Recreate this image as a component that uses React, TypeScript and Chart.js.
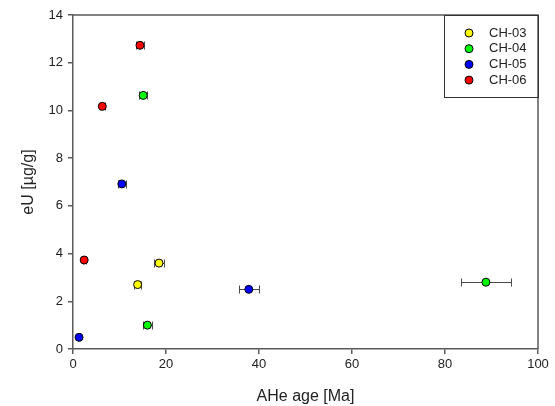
import React, { useEffect, useRef } from "react";
import { Chart, registerables } from "chart.js";

Chart.register(...registerables);

const seriesNames = ["CH-03", "CH-04", "CH-05", "CH-06"];
const seriesColors = ["#ffff00", "#00ff00", "#0000ff", "#ff0000"];

const ch03Age = [13.9, 18.5];
const ch03EU = [2.7, 3.6];
const ch03Err = [0.8, 1.1];

const ch04Age = [15.1, 88.8, 16.0];
const ch04EU = [10.63, 2.8, 1.0];
const ch04Err = [0.9, 5.4, 1.0];

const ch05Age = [10.5, 37.8, 1.3];
const ch05EU = [6.92, 2.5, 0.49];
const ch05Err = [0.8, 2.2, 0.3];

const ch06Age = [14.4, 6.3, 2.4];
const ch06EU = [12.73, 10.17, 3.73];
const ch06Err = [0.9, 0.5, 0.3];

const xTicks = [0, 20, 40, 60, 80, 100];
const yTicks = [0, 2, 4, 6, 8, 10, 12, 14];

const allAges = [ch03Age, ch04Age, ch05Age, ch06Age];
const allEU = [ch03EU, ch04EU, ch05EU, ch06EU];
const allErr = [ch03Err, ch04Err, ch05Err, ch06Err];

const AXIS_COLOR = "#5a5a5a";
const FONT = "Arial, 'Liberation Sans', sans-serif";

const errorBarPlugin = {
  id: "errorBars",
  beforeDatasetsDraw(chart: any) {
    const ctx = chart.ctx;
    const xs = chart.scales.x;
    const ys = chart.scales.y;
    ctx.save();
    ctx.strokeStyle = "#4a4a4a";
    ctx.lineWidth = 1;
    chart.data.datasets.forEach((ds: any) => {
      ds.data.forEach((p: any) => {
        if (!p.xerr) return;
        const x1 = Math.round(xs.getPixelForValue(p.x - p.xerr)) + 0.5;
        const x2 = Math.round(xs.getPixelForValue(p.x + p.xerr)) + 0.5;
        const y = Math.round(ys.getPixelForValue(p.y)) + 0.5;
        ctx.beginPath();
        ctx.moveTo(x1, y);
        ctx.lineTo(x2, y);
        ctx.moveTo(x1, y - 4);
        ctx.lineTo(x1, y + 4);
        ctx.moveTo(x2, y - 4);
        ctx.lineTo(x2, y + 4);
        ctx.stroke();
      });
    });
    ctx.restore();
  },
};

const framePlugin = {
  id: "frameLegend",
  afterDraw(chart: any) {
    const ctx = chart.ctx;
    const a = chart.chartArea;
    ctx.save();
    ctx.strokeStyle = AXIS_COLOR;
    ctx.lineWidth = 1.5;
    ctx.beginPath();
    ctx.moveTo(a.left, a.top);
    ctx.lineTo(a.right, a.top);
    ctx.lineTo(a.right, a.bottom);
    ctx.stroke();

    // legend box
    const bx = a.right - 94;
    const by = a.top;
    const bw = 94;
    const bh = 82;
    ctx.lineWidth = 1;
    ctx.strokeStyle = "#333333";
    ctx.strokeRect(bx + 0.5, by + 0.5, bw, bh);
    ctx.font = "13px " + FONT;
    ctx.textBaseline = "middle";
    ctx.textAlign = "left";
    chart.data.datasets.forEach((ds: any, i: number) => {
      const cy = by + 18 + i * 15.7;
      ctx.beginPath();
      ctx.arc(bx + 25, cy, 4, 0, Math.PI * 2);
      ctx.fillStyle = ds.backgroundColor;
      ctx.fill();
      ctx.strokeStyle = "#000";
      ctx.lineWidth = 1;
      ctx.stroke();
      ctx.fillStyle = "#222";
      ctx.fillText(ds.label, bx + 45, cy);
    });
    ctx.restore();
  },
};

export default function App() {
  const ref = useRef<HTMLCanvasElement | null>(null);
  useEffect(() => {
    document.body.style.margin = "0";
    const canvas = ref.current!;
    const datasets = seriesNames.map((name, i) => ({
      label: name,
      data: allAges[i].map((x, j) => ({ x, y: allEU[i][j], xerr: allErr[i][j] })),
      backgroundColor: seriesColors[i],
      borderColor: "#000000",
      borderWidth: 1,
      pointRadius: 4,
      pointHoverRadius: 4,
    }));
    const chart = new Chart(canvas, {
      type: "scatter",
      data: { datasets },
      plugins: [errorBarPlugin, framePlugin],
      options: {
        animation: false,
        responsive: false,
        events: [],
        layout: { padding: { left: 0, top: 15, right: 17, bottom: 0 } },
        plugins: { legend: { display: false }, tooltip: { enabled: false } },
        scales: {
          x: {
            type: "linear",
            min: 0,
            max: 100,
            afterBuildTicks: (s: any) => {
              s.ticks = xTicks.map((v) => ({ value: v }));
            },
            afterFit: (s: any) => {
              s.height = 57;
            },
            ticks: {
              color: "#222",
              font: { family: FONT, size: 13 },
              padding: 3,
              maxRotation: 0,
            },
            grid: {
              drawOnChartArea: false,
              drawTicks: true,
              tickLength: 5,
              color: AXIS_COLOR,
              lineWidth: 1.5,
            },
            border: { color: AXIS_COLOR, width: 1.5 },
            title: {
              display: true,
              text: "AHe age [Ma]",
              color: "#222",
              font: { family: FONT, size: 16 },
              padding: { top: 0, bottom: 0 },
            },
          },
          y: {
            type: "linear",
            min: 0,
            max: 14,
            afterBuildTicks: (s: any) => {
              s.ticks = yTicks.map((v) => ({ value: v }));
            },
            afterFit: (s: any) => {
              s.width = 73;
            },
            ticks: {
              color: "#222",
              font: { family: FONT, size: 13 },
              padding: 5,
            },
            grid: {
              drawOnChartArea: false,
              drawTicks: true,
              tickLength: 5,
              color: AXIS_COLOR,
              lineWidth: 1.5,
            },
            border: { color: AXIS_COLOR, width: 1.5 },
            title: {
              display: true,
              text: "eU [µg/g]",
              color: "#222",
              font: { family: FONT, size: 16 },
              padding: { top: 19, bottom: 0 },
            },
          },
        },
      },
    } as any);
    return () => chart.destroy();
  }, []);
  return <canvas ref={ref} width={555} height={406} style={{ display: "block" }} />;
}
